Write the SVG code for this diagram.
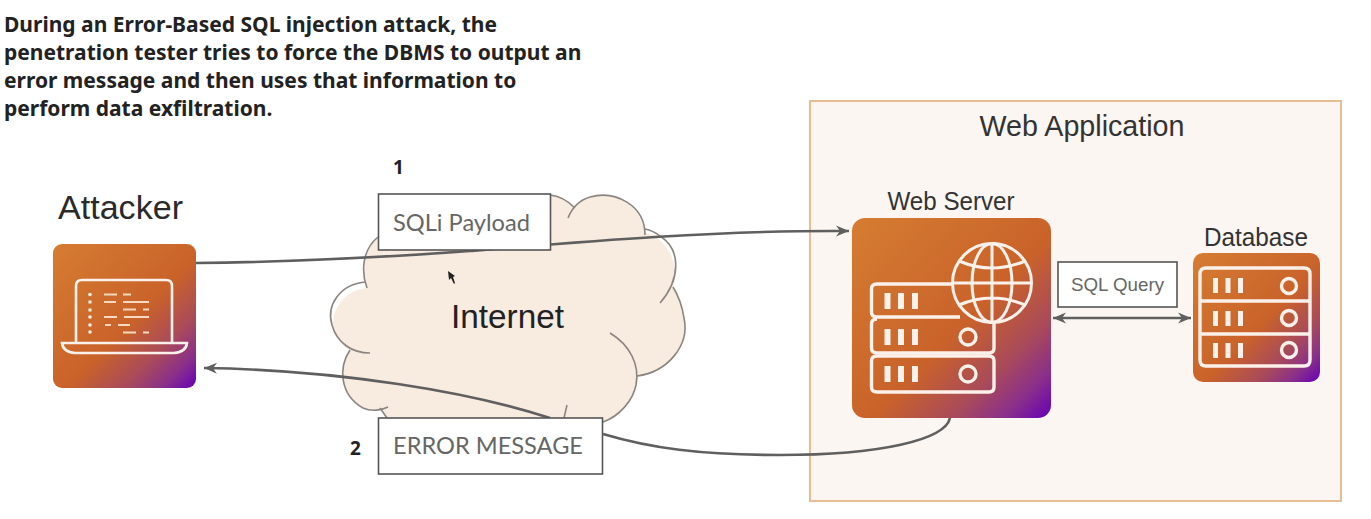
<svg xmlns="http://www.w3.org/2000/svg" width="1371" height="519" viewBox="0 0 1371 519">
<style>
text{font-family:"Liberation Sans",Arial,sans-serif;fill:#333}
.h{font-family:"Noto Sans",sans-serif;font-weight:700;font-size:21px;fill:#222}
.n{font-family:"Noto Sans",sans-serif;font-weight:700;font-size:19px;fill:#222}
.box{fill:#fff;stroke:#555;stroke-width:1.6}
.lab{font-family:Lato,sans-serif;fill:#666}
.c{fill:none;stroke:#5f5f5f;stroke-width:2.6}
.cl{fill:none;stroke:#8a8580;stroke-width:1.6}
.w{fill:none;stroke:#fbf1ea;stroke-width:3.4}
.wt{fill:none;stroke:#fbf1ea;stroke-width:2.6}
.b{fill:#fbf1ea}
.code{stroke:#f8d9bf;stroke-width:2.2;fill:none}
</style>
<defs>
<linearGradient id="g" x1="0" y1="0" x2="1" y2="1">
<stop offset="0" stop-color="#d57d32"/><stop offset=".55" stop-color="#c9622a"/><stop offset=".75" stop-color="#a94a5a"/><stop offset=".88" stop-color="#8a2f8a"/><stop offset="1" stop-color="#6500b8"/>
</linearGradient>
<marker id="a" markerUnits="userSpaceOnUse" markerWidth="18" markerHeight="14" refX="14" refY="7" orient="auto-start-reverse">
<path d="M1,1.5 L14,7 L1,12.5 L5,7 Z" fill="#5f5f5f"/>
</marker>
</defs>
<rect width="1371" height="519" fill="#fff"/>
<g id="intro">
<text class="h" x="4" y="32">During an Error-Based SQL injection attack, the</text>
<text class="h" x="4" y="60">penetration tester tries to force the DBMS to output an</text>
<text class="h" x="4" y="88">error message and then uses that information to</text>
<text class="h" x="4" y="116">perform data exfiltration.</text>
</g>
<g id="web-application">
<rect x="810" y="101" width="531" height="400" fill="#fbf6f1" stroke="#e8bd94" stroke-width="2"/>
<text x="1082" y="136" font-size="29" text-anchor="middle" textLength="205" lengthAdjust="spacingAndGlyphs">Web Application</text>
</g>
<g id="internet">
<path d="M378,237 C362,250 361,272 367,288 C340,290 325,320 338,338 C342,345 346,349 350,350 C338,368 340,395 363,408 C370,411 378,411 381,410 L387,418 L603,422 C622,416 634,396 637,377 C668,372 690,345 684,318 C682,305 678,295 673,287 C680,268 670,240 645,232 C640,205 615,190 590,197 C582,199 578,203 575,208 C565,198 560,196 550,195 L378,195 Z" fill="#f8ebe0"/>
<path class="cl" d="M378,237 C362,250 361,272 367,288"/>
<path class="cl" d="M366,282 C340,284 326,305 332,325 C337,343 352,353 370,353"/>
<path class="cl" d="M350,350 C338,368 340,395 363,408 C372,412 382,410 388,407"/>
<path class="cl" d="M380,408 L387,418"/>
<path class="cl" d="M610,333 C630,345 640,365 636,385 C633,400 620,416 603,422"/>
<path class="cl" d="M637,376 C668,372 690,345 684,318 C682,305 678,295 673,287"/>
<path class="cl" d="M660,303 C680,280 682,250 660,236 C655,232 650,230 645,229"/>
<path class="cl" d="M645,235 C645,205 615,190 590,197 C580,200 572,208 568,218"/>
<path class="cl" d="M575,208 C567,200 560,196 550,195"/>
<path class="cl" d="M567,405 L564,418"/>
<text x="451" y="328" font-size="34" fill="#222" textLength="113" lengthAdjust="spacingAndGlyphs" style="fill:#222">Internet</text>
<path d="M448,271 L449,280 L451,278 L454,284 L455,283 L453,277 L455,276 Z" fill="#222"/>
</g>
<g id="connectors">
<path class="c" marker-end="url(#a)" d="M196,263 C300,262 400,256 470,251 C590,241 720,230 849,231"/>
<path class="c" marker-end="url(#a)" d="M550,418 C470,392 340,370 204,368"/>
<path class="c" d="M950,418 C945,440 880,455 780,455 C700,455 650,448 603,434"/>
<path class="c" marker-start="url(#a)" marker-end="url(#a)" d="M1053,318 H1191"/>
</g>
<g id="sqli-payload">
<rect class="box" x="378.500" y="194" width="172" height="56"/>
<text class="lab" x="393" y="231" font-size="23" textLength="137" lengthAdjust="spacingAndGlyphs">SQLi Payload</text>
<text class="n" x="393" y="174">1</text>
</g>
<g id="error-message">
<rect class="box" x="378.500" y="418" width="224" height="56"/>
<text class="lab" x="393" y="454" font-size="23" textLength="190" lengthAdjust="spacingAndGlyphs">ERROR MESSAGE</text>
<text class="n" x="350" y="455">2</text>
</g>
<g id="attacker">
<text x="58" y="219" font-size="33" style="fill:#2a2a2a" textLength="125" lengthAdjust="spacingAndGlyphs">Attacker</text>
<rect x="53" y="244" width="143" height="144" rx="9" fill="url(#g)"/>
<path class="wt" d="M76,342 V286 Q76,280 82,280 H166 Q172,280 172,286 V342"/>
<path class="wt" d="M62,343 H187 Q186,352 174,353 H75 Q63,352 62,343 Z"/>
<g class="code">
<path d="M104,294.500 H117 M123,294.500 H131 M104,302 H116 M123,302 H149 M123,309.500 H136 M143,309.500 H149 M104,317 H117 M124,317 H149 M105,325 H111 M118,325 H130 M123,332.500 H136 M143,332.500 H149"/>
</g>
<g class="b"><circle cx="90" cy="294.500" r="1.800"/><circle cx="90" cy="302" r="1.800"/><circle cx="90" cy="310" r="1.800"/><circle cx="90" cy="317" r="1.800"/><circle cx="90" cy="325" r="1.800"/><circle cx="90" cy="332" r="1.800"/></g>
</g>
<g id="web-server">
<text x="951" y="210" font-size="25" text-anchor="middle" textLength="127" lengthAdjust="spacingAndGlyphs">Web Server</text>
<rect x="852" y="218" width="199" height="200" rx="13" fill="url(#g)"/>
<path class="w" d="M952,284 H877 Q871.500,284 871.500,289 V312 Q871.500,317 877,317 H960"/>
<path class="w" d="M877,319 Q871.500,319 871.500,324 V348 Q871.500,353 877,353 H989 Q994,353 994,348 V322"/>
<path class="w" d="M877,356 Q871.500,356 871.500,361 V387 Q871.500,392 877,392 H989 Q994,392 994,387 V361 Q994,356 989,356 Z"/>
<g class="b">
<rect x="884.500" y="293" width="6" height="16"/><rect x="898" y="293" width="6" height="16"/><rect x="912" y="293" width="6" height="16"/>
<rect x="884.500" y="329" width="6" height="16"/><rect x="898" y="329" width="6" height="16"/><rect x="912" y="329" width="6" height="16"/>
<rect x="884.500" y="366" width="6" height="16"/><rect x="898" y="366" width="6" height="16"/><rect x="912" y="366" width="6" height="16"/>
</g>
<circle class="w" cx="968" cy="337" r="8"/>
<circle class="w" cx="968" cy="374" r="8"/>
<g class="w" style="stroke-width:3">
<circle cx="992" cy="283" r="39.500"/>
<ellipse cx="992" cy="283" rx="20" ry="39.500"/>
<path d="M992,243.500 V322.500 M952.500,283 H1031.500 M959,261 Q992,275 1025,261 M959,305 Q992,291 1025,305"/>
</g>
</g>
<g id="sql-query">
<rect class="box" x="1058" y="262" width="119" height="45"/>
<text x="1117.500" y="291" font-size="18.500" text-anchor="middle" style="fill:#666" textLength="93" lengthAdjust="spacingAndGlyphs">SQL Query</text>
</g>
<g id="database">
<text x="1256" y="246" font-size="25" text-anchor="middle" textLength="104" lengthAdjust="spacingAndGlyphs">Database</text>
<rect x="1193" y="253" width="127" height="129" rx="10" fill="url(#g)"/>
<path class="w" d="M1206,268 H1304 Q1310,268 1310,274 V360 Q1310,366 1304,366 H1206 Q1200,366 1200,360 V274 Q1200,268 1206,268 Z M1200,301 H1310 M1200,334 H1310"/>
<g class="b">
<rect x="1213" y="278" width="5" height="15"/><rect x="1225.500" y="278" width="5" height="15"/><rect x="1238" y="278" width="5" height="15"/>
<rect x="1213" y="311" width="5" height="15"/><rect x="1225.500" y="311" width="5" height="15"/><rect x="1238" y="311" width="5" height="15"/>
<rect x="1213" y="343" width="5" height="15"/><rect x="1225.500" y="343" width="5" height="15"/><rect x="1238" y="343" width="5" height="15"/>
</g>
<circle class="w" cx="1289" cy="286" r="7.500"/>
<circle class="w" cx="1289" cy="318" r="7.500"/>
<circle class="w" cx="1289" cy="350" r="7.500"/>
</g>
</svg>
